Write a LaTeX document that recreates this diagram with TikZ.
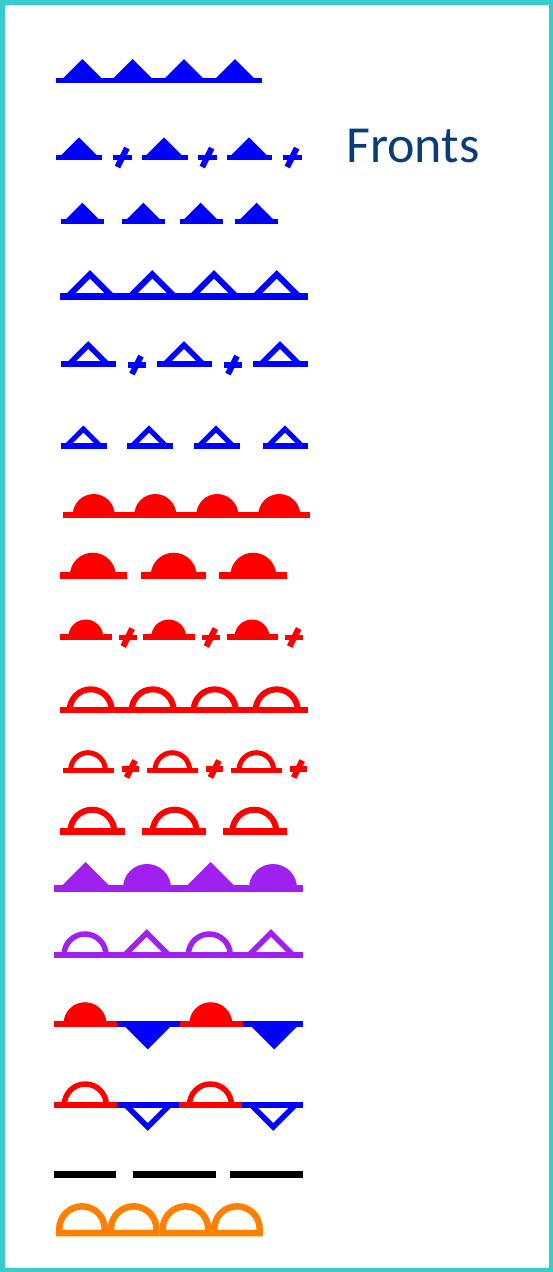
\documentclass[tikz,border=0pt]{standalone}
\usepackage{fontspec}
\newfontfamily\frontsfont{Carlito}
\definecolor{fblue}{RGB}{0,0,255}
\definecolor{fred}{RGB}{255,0,0}
\definecolor{fpurple}{RGB}{160,32,240}
\definecolor{forange}{RGB}{255,128,0}
\definecolor{fborder}{RGB}{56,204,204}
\definecolor{ftext}{RGB}{10,60,120}
% segment: colour, x1, x2, y, width
\newcommand\Seg[5]{\draw[#1,line width=#5pt] (#2,#4) -- (#3,#4);}
% filled triangle up: colour, cx, y, h
\newcommand\FTri[4]{\fill[#1] ({#2-#4},#3) -- (#2,{#3-#4}) -- ({#2+#4},#3) -- cycle;}
\newcommand\FTriD[4]{\fill[#1] ({#2-#4},#3) -- (#2,{#3+#4}) -- ({#2+#4},#3) -- cycle;}
% outline triangle: colour, cx, y, h, width
\newcommand\OTri[5]{\draw[#1,line width=#5pt] ({#2-#4},#3) -- (#2,{#3-#4}) -- ({#2+#4},#3);}
\newcommand\OTriD[5]{\draw[#1,line width=#5pt] ({#2-#4},#3) -- (#2,{#3+#4}) -- ({#2+#4},#3);}
% filled semicircle: colour, cx, y, r
\newcommand\FSemi[4]{\fill[#1] ({#2-#4},#3) arc[start angle=180,end angle=0,radius=#4pt] -- cycle;}
% outline semicircle: colour, cx, y, r, width
\newcommand\OSemi[5]{\draw[#1,line width=#5pt] ({#2-#4},#3) arc[start angle=180,end angle=0,radius=#4pt];}
% mark: colour, cx, y, s
\newcommand\Mk[4]{\draw[#1,line width=5.5pt] ({#2-#4},#3) -- ({#2+#4},#3);
  \draw[#1,line width=6pt] ({#2+0.5*#4},{#3-#4}) -- ({#2-0.5*#4},{#3+#4});}
\begin{document}
\begin{tikzpicture}[x=1pt,y=-1pt]
\useasboundingbox (0,0) rectangle (553,1272);
\fill[white] (0,0) rectangle (553,1272);
\draw[fborder,line width=4.5pt] (2.25,2.25) rectangle (550.75,1269.75);

\node[font=\frontsfont\fontsize{52}{52}\selectfont,text=ftext,anchor=base west,inner sep=0pt] (title) at (346,162.3) {Fronts};

% Row 1
\Seg{fblue}{56}{262}{80.5}{5.5}
\foreach \c in {82.3,132.7,184,235} {\FTri{fblue}{\c}{80.5}{21.5}}
% Row 2
\foreach \a/\b/\c in {56/102.3/79,141.7/187.7/164,226.7/272.3/249} {\Seg{fblue}{\a}{\b}{157}{5}\FTri{fblue}{\c}{157}{19.7}}
\foreach \m in {122.2,207,292} {\Mk{fblue}{\m}{157.5}{9.5}}
% Row 3
\foreach \a/\b/\c in {61/104.3/82.3,122/165/143.3,179.7/222.7/200.7,235/277.7/256.7} {\Seg{fblue}{\a}{\b}{221.5}{5}\FTri{fblue}{\c}{221.5}{18.8}}
% Row 4
\Seg{fblue}{60}{308.3}{296.3}{7}
\foreach \c in {90,152.3,214,276.7} {\OTri{fblue}{\c}{296.3}{22}{6}}
% Row 5
\foreach \a/\b/\c in {61/116/88.3,156.7/211.7/184,253.3/308.3/280} {\Seg{fblue}{\a}{\b}{364}{6}\OTri{fblue}{\c}{364}{19}{5.5}}
\foreach \m in {136.5,232.5} {\Mk{fblue}{\m}{365}{9}}
% Row 6
\foreach \a/\b/\c in {61/106.7/83.3,127.3/172.7/149,194.3/240/216,262.7/308.3/285} {\Seg{fblue}{\a}{\b}{446}{5.7}\OTri{fblue}{\c}{446}{17}{5}}
% Row 7
\Seg{fred}{62.7}{310}{515}{6.5}
\foreach \c in {93.7,155.3,217.3,279.3} {\FSemi{fred}{\c}{515}{21}}
% Row 8
\foreach \a/\b/\c in {60/126.7/92.8,141/205.7/173.7,219/286.7/253.3} {\Seg{fred}{\a}{\b}{575.7}{6.7}\FSemi{fred}{\c}{575.7}{23}}
% Row 9
\foreach \a/\b/\c in {60/111.7/85.8,142.7/195/168.7,226.7/278.3/252} {\Seg{fred}{\a}{\b}{637}{5.7}\FSemi{fred}{\c}{637}{17.5}}
\foreach \m in {127.7,210.8,294.2} {\Mk{fred}{\m}{637.5}{9}}
% Row 10
\Seg{fred}{60}{308.3}{710.3}{6}
\foreach \c in {90.7,152.7,214.7,276.7} {\OSemi{fred}{\c}{710.3}{21}{6}}
% Row 11
\foreach \a/\b/\c in {62.7/114/88,147.3/198.3/172.3,230.7/281.7/256.3} {\Seg{fred}{\a}{\b}{770}{5}\OSemi{fred}{\c}{770}{17.3}{5}}
\foreach \m in {130.8,214.7,298} {\Mk{fred}{\m}{769}{8.5}}
% Row 12
\foreach \a/\b/\c in {60/125/92.3,141.7/206/174.7,222.7/286.7/254.3} {\Seg{fred}{\a}{\b}{831.7}{6.7}\OSemi{fred}{\c}{831.7}{22}{6}}
% Row 13
\Seg{fpurple}{54}{303.3}{888}{7}
\FTri{fpurple}{85.7}{888}{26}
\FSemi{fpurple}{147}{888}{24}
\FTri{fpurple}{210.7}{888}{26}
\FSemi{fpurple}{273}{888}{24}
% Row 14
\Seg{fpurple}{54}{303.3}{955}{6.6}
\OSemi{fpurple}{85}{955}{21}{5.5}
\OTri{fpurple}{146.7}{955}{22}{5.5}
\OSemi{fpurple}{209.3}{955}{21}{5.5}
\OTri{fpurple}{271}{955}{22}{5.5}
% Row 15
\Seg{fred}{54}{116.7}{1023.7}{6}
\Seg{fblue}{116.7}{180}{1023.7}{6}
\Seg{fred}{180}{242.7}{1023.7}{6}
\Seg{fblue}{242.7}{303.3}{1023.7}{6}
\FSemi{fred}{85}{1023.7}{21.5}
\FSemi{fred}{210.8}{1023.7}{21.5}
\FTriD{fblue}{147.7}{1023.7}{25.6}
\FTriD{fblue}{274.3}{1023.7}{25.6}
% Row 16
\Seg{fred}{54}{116.7}{1105}{6.5}
\Seg{fblue}{116.7}{179.3}{1105}{6.5}
\Seg{fred}{179.3}{241.7}{1105}{6.5}
\Seg{fblue}{241.7}{303.3}{1105}{6.5}
\OSemi{fred}{85.3}{1105}{21}{5.5}
\OSemi{fred}{210.5}{1105}{21}{5.5}
\OTriD{fblue}{147.7}{1105}{22}{5.5}
\OTriD{fblue}{273.3}{1105}{22}{5.5}
% Row 17
\foreach \a/\b in {54/116,132.7/215.7,230/303.3} {\Seg{black}{\a}{\b}{1174}{7}}
% Row 18
\foreach \c in {82,133.7,185.5,237} {\draw[forange,line width=6.5pt] ({\c-22.7},1233) -- ({\c-22.7},1229) arc[start angle=180,end angle=0,radius=22.7pt] -- ({\c+22.7},1233) -- cycle;}
\end{tikzpicture}
\end{document}
